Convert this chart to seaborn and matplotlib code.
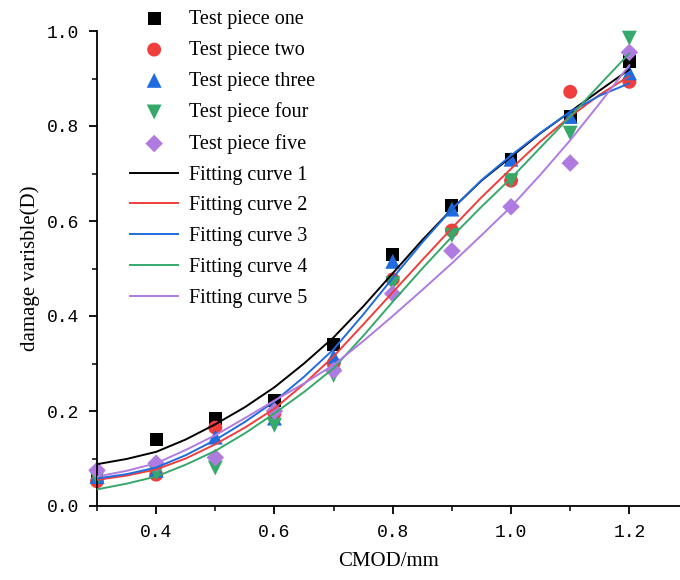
import matplotlib
matplotlib.use("Agg")
import matplotlib.pyplot as plt
import numpy as np
import pandas as pd
import seaborn as sns
from matplotlib.ticker import MultipleLocator, FixedLocator

# measured points
cmod = [0.3, 0.4, 0.5, 0.6, 0.7, 0.8, 0.9, 1.0, 1.1, 1.2]
piece_one = [0.065, 0.140, 0.185, 0.222, 0.340, 0.530, 0.632, 0.730, 0.820, 0.935]
piece_two = [0.052, 0.066, 0.165, 0.195, 0.300, 0.477, 0.580, 0.685, 0.872, 0.893]
piece_three = [0.062, 0.075, 0.145, 0.185, 0.315, 0.515, 0.625, 0.730, 0.820, 0.912]
piece_four = [0.058, 0.070, 0.080, 0.170, 0.275, 0.468, 0.570, 0.685, 0.785, 0.985]
piece_five = [0.075, 0.090, 0.102, 0.200, 0.285, 0.447, 0.537, 0.630, 0.722, 0.955]

# fitted curves, every 0.05
fit_x = [0.30, 0.35, 0.40, 0.45, 0.50, 0.55, 0.60, 0.65, 0.70, 0.75,
         0.80, 0.85, 0.90, 0.95, 1.00, 1.05, 1.10, 1.15, 1.20]
fit_one = [0.088, 0.099, 0.114, 0.140, 0.172, 0.208, 0.250, 0.300, 0.355, 0.420,
           0.490, 0.560, 0.625, 0.685, 0.735, 0.785, 0.830, 0.875, 0.919]
fit_two = [0.055, 0.064, 0.077, 0.100, 0.130, 0.165, 0.205, 0.257, 0.315, 0.382,
           0.450, 0.518, 0.585, 0.650, 0.710, 0.768, 0.820, 0.866, 0.905]
fit_three = [0.058, 0.067, 0.081, 0.107, 0.139, 0.177, 0.220, 0.272, 0.330, 0.403,
             0.480, 0.555, 0.625, 0.686, 0.738, 0.786, 0.830, 0.864, 0.890]
fit_four = [0.035, 0.047, 0.062, 0.087, 0.116, 0.153, 0.195, 0.240, 0.290, 0.358,
            0.430, 0.500, 0.567, 0.630, 0.690, 0.755, 0.820, 0.887, 0.953]
fit_five = [0.062, 0.074, 0.090, 0.118, 0.149, 0.185, 0.222, 0.258, 0.297, 0.347,
            0.400, 0.455, 0.511, 0.570, 0.630, 0.698, 0.770, 0.848, 0.928]

point_labels = ["Test piece one", "Test piece two", "Test piece three",
                "Test piece four", "Test piece five"]
curve_labels = ["Fitting curve 1", "Fitting curve 2", "Fitting curve 3",
                "Fitting curve 4", "Fitting curve 5"]
colors = ["#000000", "#EF3E3C", "#1E6CE0", "#36A86A", "#B07BE0"]
markers = ["s", "o", "^", "v", "D"]
msizes = [85, 100, 115, 115, 80]

points = [piece_one, piece_two, piece_three, piece_four, piece_five]
curves = [fit_one, fit_two, fit_three, fit_four, fit_five]

fig = plt.figure(figsize=(6.8, 5.8), dpi=100)
ax = fig.add_axes([97 / 680, 1 - 506 / 580, 583 / 680, 475 / 580])

for vals, lab, col, mk, sz in zip(points, point_labels, colors, markers, msizes):
    df = pd.DataFrame({"cmod": cmod, "D": vals})
    sns.scatterplot(data=df, x="cmod", y="D", color=col, marker=mk, s=sz,
                    edgecolor="none", label=lab, ax=ax, clip_on=False, zorder=2)

for vals, lab, col in zip(curves, curve_labels, colors):
    df = pd.DataFrame({"cmod": fit_x, "D": vals})
    sns.lineplot(data=df, x="cmod", y="D", color=col, lw=1.4, label=lab,
                 errorbar=None, ax=ax, zorder=3)

ax.set_xlim(0.3, 0.3 + 583 / 591.5)
ax.set_ylim(0, 1.0)
for s in ["top", "right"]:
    ax.spines[s].set_visible(False)
for s in ["left", "bottom"]:
    ax.spines[s].set_linewidth(1.3)

xt = [0.4, 0.6, 0.8, 1.0, 1.2]
yt = [0.0, 0.2, 0.4, 0.6, 0.8, 1.0]
ax.xaxis.set_major_locator(FixedLocator(xt))
ax.xaxis.set_minor_locator(FixedLocator([0.3, 0.5, 0.7, 0.9, 1.1]))
ax.yaxis.set_major_locator(FixedLocator(yt))
ax.yaxis.set_minor_locator(FixedLocator([0.1, 0.3, 0.5, 0.7, 0.9]))
ax.set_xticklabels([f"{v:.1f}" for v in xt], family="Liberation Mono", fontsize=13)
ax.set_yticklabels([f"{v:.1f}" for v in yt], family="Liberation Mono", fontsize=13)
ax.tick_params(which="major", direction="out", length=6, width=1.3, pad=7)
ax.tick_params(which="minor", direction="out", length=3.5, width=1.1)

ax.set_xlabel("CMOD/mm", family="Liberation Serif", fontsize=15, labelpad=8)
ax.set_ylabel("damage varisble(D)", family="Liberation Serif", fontsize=15, labelpad=5)

handles, labels = ax.get_legend_handles_labels()
ax.legend(handles, labels, loc="upper left", bbox_to_anchor=(130 / 680, 1 - 10 / 580),
          bbox_transform=fig.transFigure, frameon=False, borderpad=0, borderaxespad=0,
          prop={"family": "Liberation Serif", "size": 14.5}, labelspacing=0.58,
          handlelength=2.4, handletextpad=0.55)

fig.savefig("out.png", dpi=100)
